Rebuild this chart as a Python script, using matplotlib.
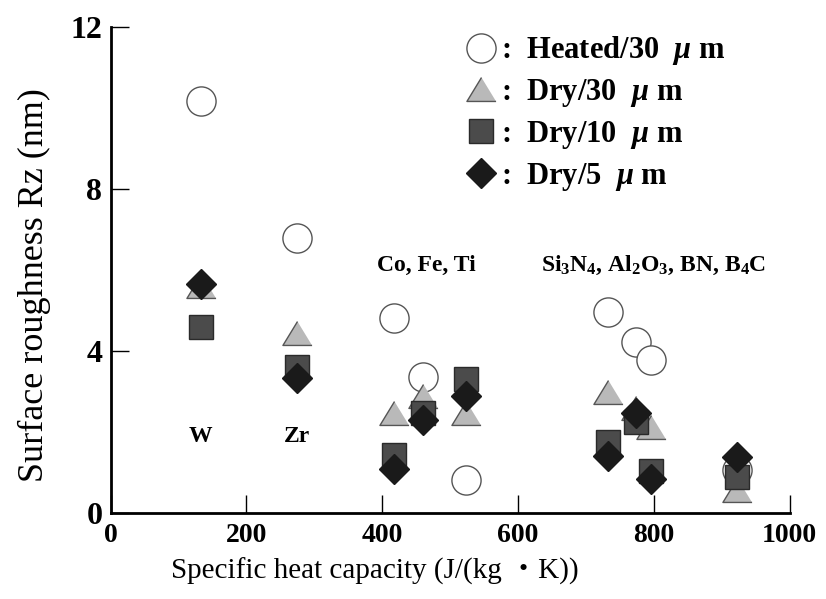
import matplotlib
matplotlib.use('Agg')
import matplotlib.pyplot as plt
from matplotlib.lines import Line2D

# specific heat capacity of each material, J/(kg K)
materials = ['W', 'Zr', 'Co', 'Fe', 'Ti', 'Si3N4', 'Al2O3', 'BN', 'B4C']
heat_capacity = [133, 275, 418, 460, 523, 733, 774, 796, 922]

# surface roughness Rz (nm)
heated_30 = [10.18, 6.8, 4.81, 3.35, 0.81, 4.95, 4.23, 3.78, 1.06]
dry_30 = [5.6, 4.45, 2.47, 2.9, 2.47, 2.98, 2.6, 2.12, 0.57]
dry_10 = [4.6, 3.6, 1.43, 2.47, 3.3, 1.76, 2.25, 1.04, 0.9]
dry_5 = [5.65, 3.34, 1.08, 2.3, 2.9, 1.41, 2.46, 0.83, 1.37]

x_ticks = [0, 200, 400, 600, 800, 1000]
y_ticks = [0, 4, 8, 12]

plt.rcParams['font.family'] = ['Liberation Serif', 'Noto Sans CJK JP']
plt.rcParams['mathtext.fontset'] = 'custom'
plt.rcParams['mathtext.rm'] = 'Liberation Serif:bold'
plt.rcParams['mathtext.it'] = 'Liberation Serif:italic:bold'
plt.rcParams['mathtext.bf'] = 'Liberation Serif:bold'

fig = plt.figure(figsize=(8.26, 5.99), dpi=100)
ax = fig.add_axes([0.134, 0.1436, 0.822, 0.8114])

tri = [(0, 0.82), (-1, -0.82), (1, -0.82)]
styles = [
    (heated_30, dict(marker='o', ms=21, mfc='white', mec='#555555', mew=1.0)),
    (dry_30, dict(marker=tri, ms=21, mfc='#b9b9b9', mec='#555555', mew=1.0)),
    (dry_10, dict(marker='s', ms=17, mfc='#4b4b4b', mec='#2a2a2a', mew=1.0)),
    (dry_5, dict(marker='D', ms=15, mfc='#1a1a1a', mec='#1a1a1a', mew=1.0)),
]
for vals, st in styles:
    ax.plot(heat_capacity, vals, ls='none', **st)

ax.set_xlim(0, 1000)
ax.set_ylim(0, 12)
ax.set_xticks(x_ticks)
ax.set_yticks(y_ticks)
ax.spines['top'].set_visible(False)
ax.spines['right'].set_visible(False)
for s in ('left', 'bottom'):
    ax.spines[s].set_linewidth(2)
ax.tick_params(direction='in', length=13, width=1)
ax.tick_params(axis='x', labelsize=20, pad=7)
ax.tick_params(axis='y', labelsize=23, pad=6)
for lab in ax.get_xticklabels() + ax.get_yticklabels():
    lab.set_fontweight('bold')

ax.set_xlabel('Specific heat capacity (J/(kg \u30fbK))', fontsize=21)
ax.set_ylabel('Surface roughness Rz (nm)', fontsize=26)
ax.xaxis.set_label_coords(0.389, -0.093)
ax.yaxis.set_label_coords(-0.088, 0.469)

# material group labels
ax.text(132, 1.88, 'W', ha='center', va='center', fontsize=17, fontweight='bold')
ax.text(275, 1.88, 'Zr', ha='center', va='center', fontsize=17, fontweight='bold')
ax.text(465, 6.1, 'Co, Fe, Ti', ha='center', va='center', fontsize=17, fontweight='bold')
ax.text(800, 6.1, r'Si$_3$N$_4$, Al$_2$O$_3$, BN, B$_4$C', ha='center', va='center',
        fontsize=17, fontweight='bold')

labels = [r':  Heated/30  $\mu$ m', r':  Dry/30  $\mu$ m', r':  Dry/10  $\mu$ m', r':  Dry/5  $\mu$ m']
handles = [Line2D([], [], ls='none', **st) for _, st in styles]
ax.legend(handles, labels, loc='upper left', bbox_to_anchor=(0.505, 1.01), frameon=False,
          prop={'size': 22, 'weight': 'bold'}, handletextpad=0.15, labelspacing=0.32,
          handlelength=1.0, borderaxespad=0.0)

fig.savefig('out.png', dpi=100)
